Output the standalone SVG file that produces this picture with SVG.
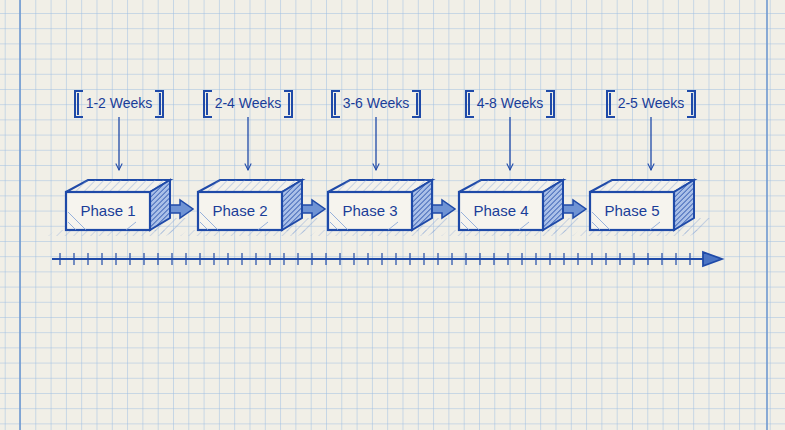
<svg xmlns="http://www.w3.org/2000/svg" width="785" height="430" viewBox="0 0 785 430">
<defs>
<pattern id="grid" x="20" y="13" width="15.3" height="15.2" patternUnits="userSpaceOnUse">
<path d="M0 0V15.2M0 0H15.3" fill="none" stroke="#9dbde2" stroke-width="1"/>
</pattern>
<pattern id="hatch" width="3.5" height="3.5" patternUnits="userSpaceOnUse" patternTransform="rotate(45)">
<line x1="0" y1="0" x2="0" y2="3.5" stroke="#1f4aa8" stroke-width="1.4"/>
</pattern>
<pattern id="lhatch" width="6" height="6" patternUnits="userSpaceOnUse" patternTransform="rotate(45)">
<line x1="0" y1="0" x2="0" y2="6" stroke="#7f9fd6" stroke-width="0.8"/>
</pattern>
<marker id="ah" viewBox="0 0 10 10" refX="9" refY="5" markerWidth="8" markerHeight="8" orient="auto" markerUnits="userSpaceOnUse">
<path d="M1 1L9 5L1 9" fill="none" stroke="#1f4aa8" stroke-width="1.3"/>
</marker>
<g id="box">
<path d="M-10 38L-18 44H100L110 38Z" fill="url(#lhatch)" opacity="0.8"/>
<path d="M86 38L108 26L125 26L100 44Z" fill="url(#lhatch)"/>
<path d="M0 0L22 -12H104L84 0Z" fill="#f4f2ec" stroke="#1f4aa8" stroke-width="2"/>
<path d="M0 0L22 -12H104L84 0Z" fill="url(#lhatch)"/>
<path d="M84 0L104 -12V26L84 38Z" fill="#aac0e8" stroke="#1f4aa8" stroke-width="2"/>
<path d="M84 0L104 -12V26L84 38Z" fill="url(#hatch)"/>
<rect x="0" y="0" width="84" height="38" fill="#f6f4ee" stroke="#1f4aa8" stroke-width="2.2"/>
<path d="M2 30L10 38M2 20L20 38M60 38L70 30" stroke="#7f9fd6" stroke-width="0.8"/>
</g>
<g id="bracket" fill="none" stroke="#1f4aa8" stroke-width="2">
<path d="M8 0H0V26H8M3 2V24"/>
<path d="M80 0H88V26H80M85 2V24"/>
</g>
</defs>
<style>
.t{font-family:"Liberation Sans",Arial,sans-serif;fill:#1a3d98;text-anchor:middle}
.ph{font-size:15px}
.wk{font-size:14px}
</style>
<rect width="785" height="430" fill="#f1efe7"/>
<rect width="785" height="430" fill="url(#grid)"/>
<line x1="20" y1="0" x2="20" y2="430" stroke="#6f98d0" stroke-width="1.6"/>
<line x1="767" y1="0" x2="767" y2="430" stroke="#6f98d0" stroke-width="1.6"/>
<g id="connectors" stroke="#1f4aa8">
<line x1="119" y1="117" x2="119" y2="170" stroke-width="1.3" marker-end="url(#ah)"/>
<line x1="248" y1="117" x2="248" y2="170" stroke-width="1.3" marker-end="url(#ah)"/>
<line x1="376" y1="117" x2="376" y2="170" stroke-width="1.3" marker-end="url(#ah)"/>
<line x1="510" y1="117" x2="510" y2="170" stroke-width="1.3" marker-end="url(#ah)"/>
<line x1="651" y1="117" x2="651" y2="170" stroke-width="1.3" marker-end="url(#ah)"/>
<g fill="#6f93d4" stroke-width="1.5">
<path d="M160 205H180V200L193 209L180 218V213H160Z"/>
<path d="M292 205H312V200L325 209L312 218V213H292Z"/>
<path d="M422 205H442V200L455 209L442 218V213H422Z"/>
<path d="M553 205H573V200L586 209L573 218V213H553Z"/>
</g>
</g>
<g id="timeline" stroke="#1f4aa8" stroke-width="1.8">
<line x1="52" y1="259" x2="705" y2="259"/>
<path d="M703 252L722 259L703 266Z" fill="#4b74c4"/>
<path d="M60 253V265M74 253V265M88 253V265M102 253V265M116 253V265M130 253V265M144 253V265M158 253V265M172 253V265M186 253V265M200 253V265M214 253V265M228 253V265M242 253V265M256 253V265M270 253V265M284 253V265M298 253V265M312 253V265M326 253V265M340 253V265M354 253V265M368 253V265M382 253V265M396 253V265M410 253V265M424 253V265M438 253V265M452 253V265M466 253V265M480 253V265M494 253V265M508 253V265M522 253V265M536 253V265M550 253V265M564 253V265M578 253V265M592 253V265M606 253V265M620 253V265M634 253V265M648 253V265M662 253V265M676 253V265M690 253V265" stroke-width="1.2"/>
</g>
<g id="phase1"><use href="#box" x="66" y="192"/><text class="t ph" x="108" y="216">Phase 1</text></g>
<g id="phase2"><use href="#box" x="198" y="192"/><text class="t ph" x="240" y="216">Phase 2</text></g>
<g id="phase3"><use href="#box" x="328" y="192"/><text class="t ph" x="370" y="216">Phase 3</text></g>
<g id="phase4"><use href="#box" x="459" y="192"/><text class="t ph" x="501" y="216">Phase 4</text></g>
<g id="phase5"><use href="#box" x="590" y="192"/><text class="t ph" x="632" y="216">Phase 5</text></g>
<g id="dur1"><use href="#bracket" x="75" y="91"/><text class="t wk" x="119" y="108">1-2 Weeks</text></g>
<g id="dur2"><use href="#bracket" x="204" y="91"/><text class="t wk" x="248" y="108">2-4 Weeks</text></g>
<g id="dur3"><use href="#bracket" x="332" y="91"/><text class="t wk" x="376" y="108">3-6 Weeks</text></g>
<g id="dur4"><use href="#bracket" x="466" y="91"/><text class="t wk" x="510" y="108">4-8 Weeks</text></g>
<g id="dur5"><use href="#bracket" x="607" y="91"/><text class="t wk" x="651" y="108">2-5 Weeks</text></g>
</svg>
